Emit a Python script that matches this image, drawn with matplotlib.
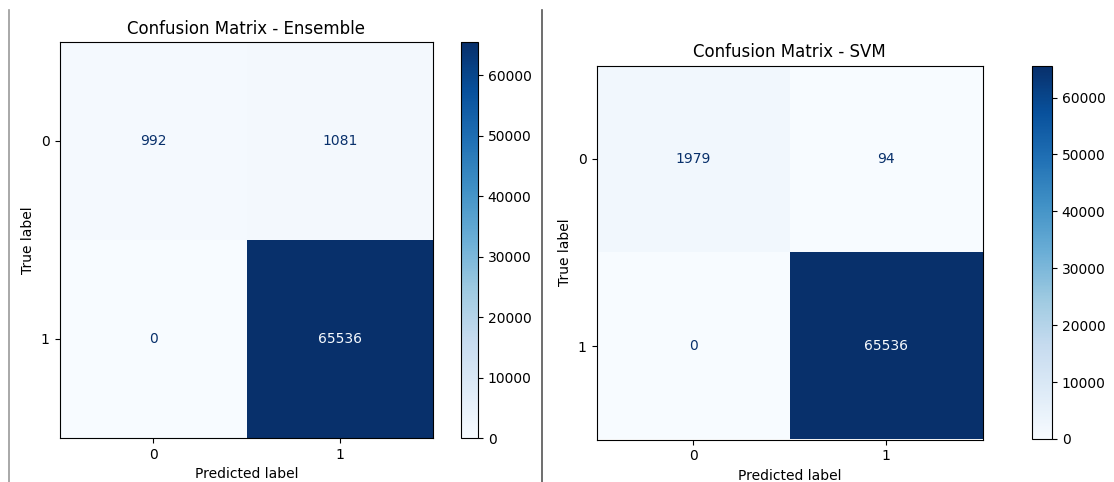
import numpy as np
import matplotlib
matplotlib.use("Agg")
import matplotlib.pyplot as plt
from matplotlib.lines import Line2D

# confusion matrices
labels = ["0", "1"]
cm_ensemble = np.array([[992, 1081],
                        [0, 65536]])
cm_svm = np.array([[1979, 94],
                   [0, 65536]])
titles = ["Confusion Matrix - Ensemble", "Confusion Matrix - SVM"]
cbar_ticks = [0, 10000, 20000, 30000, 40000, 50000, 60000]

W, H = 1114, 482
fig = plt.figure(figsize=(W / 100, H / 100), dpi=100)


def box(x0, x1, y0, y1):
    # pixel box -> figure fraction
    return [x0 / W, 1 - y1 / H, (x1 - x0) / W, (y1 - y0) / H]


def draw(cm, title, ax_box, cb_box):
    ax = fig.add_axes(box(*ax_box))
    cax = fig.add_axes(box(*cb_box))
    cmap = plt.get_cmap("Blues")
    im = ax.imshow(cm, cmap=cmap, aspect="auto", interpolation="nearest")
    thresh = (cm.max() + cm.min()) / 2.0
    for i in range(cm.shape[0]):
        for j in range(cm.shape[1]):
            color = cmap(0.0) if cm[i, j] >= thresh else cmap(1.0)
            ax.text(j, i, str(cm[i, j]), ha="center", va="center",
                    color=color, fontsize=10)
    ax.set_xticks(range(len(labels)))
    ax.set_xticklabels(labels)
    ax.set_yticks(range(len(labels)))
    ax.set_yticklabels(labels)
    ax.set_xlabel("Predicted label")
    ax.set_ylabel("True label")
    ax.set_title(title, fontsize=12)
    cb = fig.colorbar(im, cax=cax)
    cb.set_ticks(cbar_ticks)
    return ax


draw(cm_ensemble, titles[0], (59.5, 433.5, 42, 438), (461, 478, 42, 438))
draw(cm_svm, titles[1], (596.5, 982.5, 65.5, 439.5), (1032, 1052, 66, 439))

# screenshot divider lines
fig.add_artist(Line2D([9 / W, 9 / W], [0, 1 - 10 / H], color="#999999", lw=1.2))
fig.add_artist(Line2D([542 / W, 542 / W], [0, 1 - 10 / H], color="#555555", lw=1.2))

fig.savefig("out.png", dpi=100)
